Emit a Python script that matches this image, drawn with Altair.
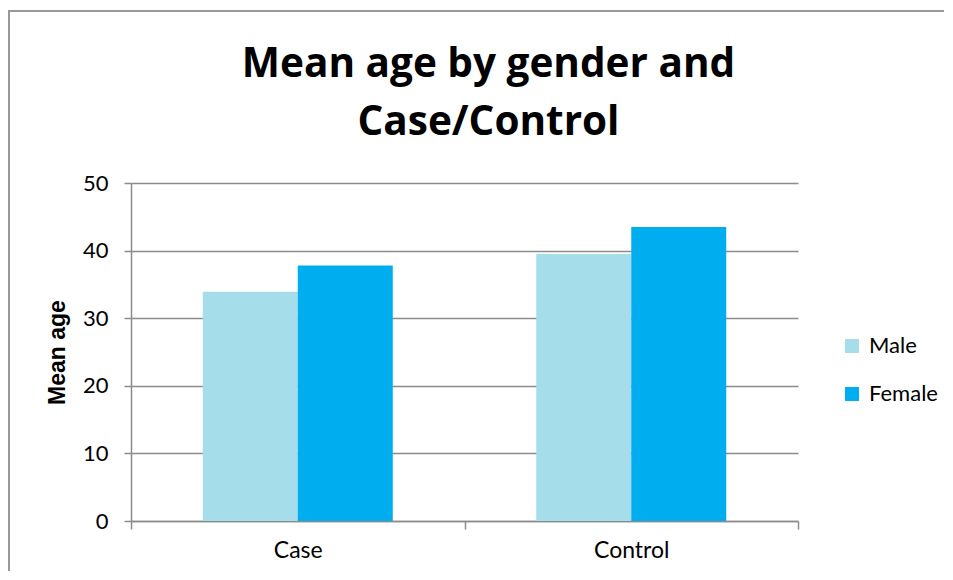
import altair as alt
import pandas as pd

# ---- data ----
groups = ["Case", "Control"]
genders = ["Male", "Female"]
male_mean_age = [33.9, 39.5]
female_mean_age = [37.8, 43.5]
y_ticks = [0, 10, 20, 30, 40, 50]
gender_colors = ["#A5DEEA", "#00AEEF"]

rows = []
for g, m, f in zip(groups, male_mean_age, female_mean_age):
    rows.append({"group": g, "gender": "Male", "age": m})
    rows.append({"group": g, "gender": "Female", "age": f})
df = pd.DataFrame(rows)

FONT = "Lato"
GRID = "#8c8c8c"

bars = alt.Chart(df).mark_bar(size=95).encode(
    x=alt.X(
        "group:N",
        sort=groups,
        scale=alt.Scale(paddingInner=0, paddingOuter=0),
        axis=alt.Axis(
            title=None,
            labelAngle=0,
            tickBand="extent",
            grid=False,
            domainColor=GRID,
            domainWidth=1.5,
            tickColor=GRID,
            tickWidth=1.5,
            tickSize=8,
            labelFont=FONT,
            labelFontSize=23,
            labelColor="#000000",
            labelPadding=10,
        ),
    ),
    xOffset=alt.XOffset(
        "gender:N",
        sort=genders,
        scale=alt.Scale(paddingInner=0, paddingOuter=0.755),
    ),
    y=alt.Y(
        "age:Q",
        scale=alt.Scale(domain=[0, 50]),
        axis=alt.Axis(
            title="Mean age",
            values=y_ticks,
            grid=True,
            gridColor=GRID,
            gridWidth=1.5,
            domainColor=GRID,
            domainWidth=1.5,
            tickColor=GRID,
            tickWidth=1.5,
            tickSize=7,
            labelFont=FONT,
            labelFontSize=22,
            labelColor="#000000",
            labelPadding=16,
            titleFont="Liberation Sans",
            titleFontSize=23,
            titleFontWeight="bold",
            titleColor="#000000",
            titlePadding=13,
        ),
    ),
    color=alt.Color(
        "gender:N",
        sort=genders,
        scale=alt.Scale(domain=genders, range=gender_colors),
        legend=alt.Legend(
            title=None,
            orient="none",
            legendX=710,
            legendY=152,
            symbolType="square",
            symbolSize=196,
            symbolStrokeWidth=0,
            labelFont=FONT,
            labelFontSize=22,
            labelColor="#000000",
            rowPadding=26,
            labelOffset=6,
        ),
    ),
)

# decorative outer frame of the chart area (top and left edges only; not data)
frame_top = alt.Chart(pd.DataFrame({"k": [0]})).mark_rule(
    stroke="#999999", strokeWidth=2
).encode(x=alt.value(-123), x2=alt.value(860), y=alt.value(-172))

frame_left = alt.Chart(pd.DataFrame({"k": [0]})).mark_rule(
    stroke="#999999", strokeWidth=2
).encode(x=alt.value(-122), y=alt.value(-172), y2=alt.value(420))

chart = alt.layer(frame_top, frame_left, bars).properties(
    width=667,
    height=338,
    autosize=alt.AutoSizeParams(type="none"),
    padding={"left": 123, "top": 175, "right": 146, "bottom": 50},
    title=alt.TitleParams(
        text=["Mean age by gender and", "Case/Control"],
        font="Open Sans",
        fontSize=40.5,
        fontWeight="bold",
        color="#000000",
        anchor="middle",
        lineHeight=58,
        dx=24,
        dy=133,
        offset=0,
    ),
).configure_view(stroke=None)

chart.save("out.html", embed_options={"renderer": "svg", "actions": False})
